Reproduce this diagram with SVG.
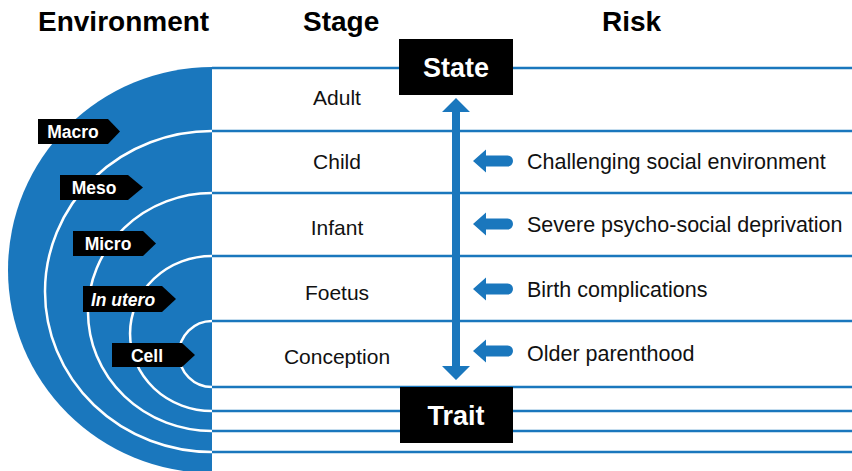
<svg xmlns="http://www.w3.org/2000/svg" width="852" height="471" viewBox="0 0 852 471">
  <style>
    .hdr { font-family: "Liberation Sans", Arial, sans-serif; font-weight: bold; font-size: 28px; fill: #000; }
    .stage { font-family: "Liberation Sans", Arial, sans-serif; font-size: 21px; fill: #111; text-anchor: middle; }
    .risk { font-family: "Liberation Sans", Arial, sans-serif; font-size: 21.5px; fill: #111; }
    .tag { fill: #000; }
    .tagtxt { font-family: "Liberation Sans", Arial, sans-serif; font-weight: bold; font-size: 17.5px; fill: #fff; text-anchor: middle; }
    .box { fill: #000; }
    .boxtxt { font-family: "Liberation Sans", Arial, sans-serif; font-weight: bold; font-size: 27px; fill: #fff; text-anchor: middle; }
    .band { stroke: #1a77bd; stroke-width: 2.5; fill: none; }
    .ring { stroke: #fff; stroke-width: 2.5; fill: none; }
    .blue { fill: #1a77bd; }
  </style>
  <defs>
    <path id="risk-arrow" d="M0,0 L13,-11.5 L13,-5.5 L34.5,-5.5 A5.5,5.5 0 0 1 34.5,5.5 L13,5.5 L13,11.5 Z"/>
  </defs>

  <rect width="852" height="471" fill="#fff"/>

  <!-- column headings -->
  <text class="hdr" x="38" y="31">Environment</text>
  <text class="hdr" x="303" y="31">Stage</text>
  <text class="hdr" x="602" y="31">Risk</text>

  <!-- nested environment half-discs -->
  <g id="environment">
    <path class="blue" d="M212,67 A204,203 0 0 0 212,473 Z"/>
    <path class="ring" d="M212,131 A167,160.5 0 0 0 212,452"/>
    <path class="ring" d="M212,193 A124,119 0 0 0 212,431"/>
    <path class="ring" d="M212,256 A82,77.5 0 0 0 212,411"/>
    <path class="ring" d="M212,321 A33,33 0 0 0 212,387"/>
  </g>

  <!-- stage band lines -->
  <g id="connectors">
    <line class="band" x1="212" y1="68" x2="852" y2="68"/>
    <line class="band" x1="212" y1="131" x2="852" y2="131"/>
    <line class="band" x1="212" y1="193" x2="852" y2="193"/>
    <line class="band" x1="212" y1="256" x2="852" y2="256"/>
    <line class="band" x1="212" y1="321" x2="852" y2="321"/>
    <line class="band" x1="212" y1="387" x2="852" y2="387"/>
    <line class="band" x1="212" y1="411" x2="852" y2="411"/>
    <line class="band" x1="212" y1="431" x2="852" y2="431"/>
    <line class="band" x1="212" y1="452" x2="852" y2="452"/>
    <!-- state/trait double arrow -->
    <path class="blue" d="M456,98 L470,112 L460,112 L460,366 L470,366 L456,380 L442,366 L452,366 L452,112 L442,112 Z"/>
    <!-- risk arrows -->
    <use href="#risk-arrow" class="blue" x="473" y="161"/>
    <use href="#risk-arrow" class="blue" x="473" y="224"/>
    <use href="#risk-arrow" class="blue" x="473" y="289"/>
    <use href="#risk-arrow" class="blue" x="473" y="351"/>
  </g>

  <!-- environment level tags -->
  <g id="tag-macro">
    <path class="tag" d="M38,119 H108 L120,131.5 L108,144 H38 Z"/>
    <text class="tagtxt" x="73" y="138">Macro</text>
  </g>
  <g id="tag-meso">
    <path class="tag" d="M60,175 H128 L143,187.5 L128,200 H60 Z"/>
    <text class="tagtxt" x="94" y="194">Meso</text>
  </g>
  <g id="tag-micro">
    <path class="tag" d="M73,231 H143 L156,243.5 L143,256 H73 Z"/>
    <text class="tagtxt" x="108" y="250">Micro</text>
  </g>
  <g id="tag-in-utero">
    <path class="tag" d="M83,286 H162 L176,299 L162,312 H83 Z"/>
    <text class="tagtxt" x="123" y="305.5" font-style="italic">In utero</text>
  </g>
  <g id="tag-cell">
    <path class="tag" d="M112,343 H182 L195,355 L182,367 H112 Z"/>
    <text class="tagtxt" x="147" y="361.5">Cell</text>
  </g>

  <!-- stages -->
  <g id="stage-adult"><text class="stage" x="337" y="105">Adult</text></g>
  <g id="stage-child"><text class="stage" x="337" y="169">Child</text></g>
  <g id="stage-infant"><text class="stage" x="337" y="235">Infant</text></g>
  <g id="stage-foetus"><text class="stage" x="337" y="300">Foetus</text></g>
  <g id="stage-conception"><text class="stage" x="337" y="364">Conception</text></g>

  <!-- risks -->
  <g id="risk-social"><text class="risk" x="527" y="169">Challenging social environment</text></g>
  <g id="risk-deprivation"><text class="risk" x="527" y="232">Severe psycho-social deprivation</text></g>
  <g id="risk-birth"><text class="risk" x="527" y="297">Birth complications</text></g>
  <g id="risk-parenthood"><text class="risk" x="527" y="361">Older parenthood</text></g>

  <!-- state / trait poles -->
  <g id="state">
    <rect class="box" x="399" y="39" width="114" height="56"/>
    <text class="boxtxt" x="456" y="77">State</text>
  </g>
  <g id="trait">
    <rect class="box" x="400" y="387" width="113" height="56"/>
    <text class="boxtxt" x="456" y="425">Trait</text>
  </g>
</svg>
